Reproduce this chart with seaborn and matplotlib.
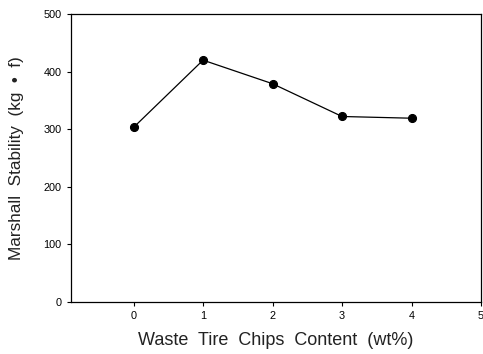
import matplotlib
matplotlib.use("Agg")
import matplotlib.pyplot as plt
import seaborn as sns
import pandas as pd

content = [0, 1, 2, 3, 4]
stability = [303, 420, 379, 322, 319]
xticks = [0, 1, 2, 3, 4, 5]
yticks = [0, 100, 200, 300, 400, 500]

sns.set_style("ticks")
plt.rcParams['font.family'] = ['Liberation Sans', 'DejaVu Sans']

df = pd.DataFrame({"x": content, "y": stability})
fig = plt.figure(figsize=(4.83, 3.54), dpi=100)
ax = fig.add_axes([0.147, 0.148, 0.849, 0.812])
sns.lineplot(data=df, x="x", y="y", ax=ax, color="black", linewidth=0.9,
             marker="o", markersize=5.8, markeredgecolor="black", markerfacecolor="black")
ax.set_xlim(-0.9, 5)
ax.set_ylim(0, 500)
ax.set_xticks(xticks)
ax.set_yticks(yticks)
ax.tick_params(axis="both", labelsize=7.8, length=3, width=0.8, direction="out",
               pad=4, colors="black")
for s in ax.spines.values():
    s.set_visible(True)
    s.set_linewidth(0.9)
    s.set_color("black")
ax.set_xlabel("Waste  Tire  Chips  Content  (wt%)", fontsize=13, labelpad=8, color="#222222")
ax.set_ylabel("Marshall  Stability  (kg  •  f)", fontsize=12.3, labelpad=14, color="#222222")
fig.savefig("out.png", dpi=100)
